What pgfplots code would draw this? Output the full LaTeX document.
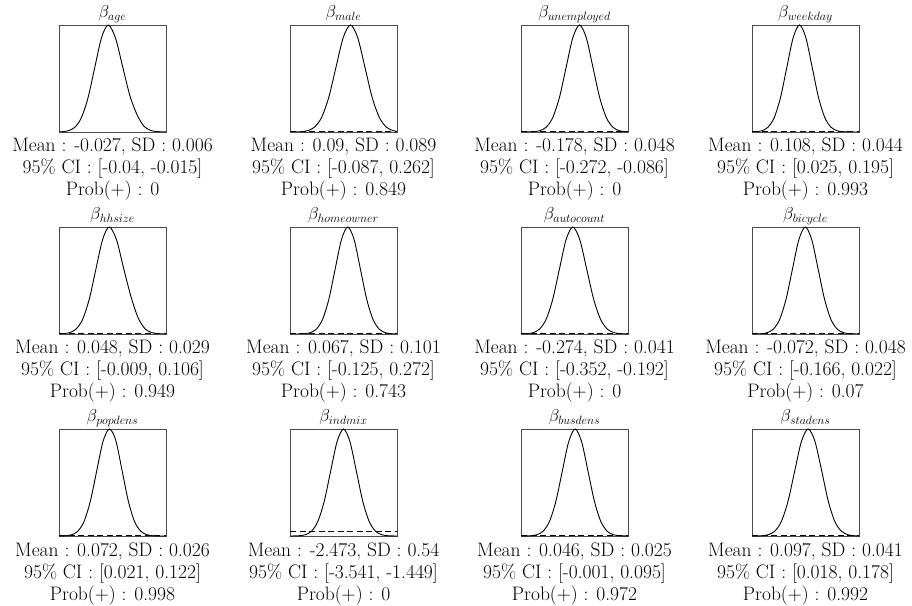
\documentclass[border=0pt]{standalone}
\usepackage{pgfplots}
\pgfplotsset{compat=1.18}
\pgfplotsset{dens/.style={width=107pt,height=107pt,scale only axis,
  xmin=0,xmax=1,ymin=0,ymax=1,ticks=none,
  axis line style={black!70,line width=0.8pt},anchor=north west}}
\tikzset{txt/.style={anchor=base,inner sep=0pt,font=\fontsize{19.5}{22}\selectfont},
  ttl/.style={anchor=base,inner sep=0pt,font=\fontsize{17.5}{20}\selectfont}}
\newcommand\curve{\addplot[black,line width=0.9pt,smooth,no markers]}
\newcommand\prior[1]{\addplot[black,line width=0.8pt,dash pattern=on 6pt off 3.5pt,no markers] coordinates {(0,#1) (1,#1)};}
\newcommand\stats[5]{%
  \node[ttl] at ([yshift=7.5pt]#1.north) {$\beta_{#2}$};
  \node[txt] at ([yshift=-20pt]#1.south) {#3};
  \node[txt] at ([yshift=-42pt]#1.south) {#4};
  \node[txt] at ([yshift=-64pt]#1.south) {#5};}
\begin{document}
\begin{tikzpicture}
\useasboundingbox (0pt,0pt) rectangle (912pt,605pt);
% Row 1
\begin{axis}[dens,at={(59pt,580pt)},name=a1]
\curve coordinates {(-0.04,0.0003) (0.0225,0.0022) (0.085,0.0111) (0.1475,0.0439) (0.21,0.1353) (0.2725,0.3247) (0.335,0.6065) (0.3975,0.8825) (0.46,1) (0.5275,0.88) (0.595,0.61) (0.6625,0.34) (0.73,0.16) (0.7975,0.05) (0.865,0.012) (0.9325,0.003) (1.0,0.0005)};
\prior{0.0005}
\end{axis}
\stats{a1}{age}{Mean : -0.027, SD : 0.006}{95\% CI : [-0.04, -0.015]}{Prob(+) : 0}
\begin{axis}[dens,at={(290pt,580pt)},name=a2]
\curve coordinates {(0,0.0001) (0.025,0.0003) (0.0925,0.0022) (0.16,0.0111) (0.2275,0.0439) (0.295,0.1353) (0.3625,0.3247) (0.43,0.6065) (0.4975,0.8825) (0.565,1) (0.6325,0.8825) (0.70,0.6065) (0.7675,0.3247) (0.835,0.1353) (0.9025,0.0439) (0.97,0.0111) (1.0375,0.0022)};
\prior{0.0077}
\end{axis}
\stats{a2}{male}{Mean : 0.09, SD : 0.089}{95\% CI : [-0.087, 0.262]}{Prob(+) : 0.849}
\begin{axis}[dens,at={(521pt,580pt)},name=a3]
\curve coordinates {(0,0.0002) (0.047,0.0003) (0.1095,0.0022) (0.172,0.0111) (0.2345,0.0439) (0.297,0.1353) (0.3595,0.3247) (0.422,0.6065) (0.4845,0.8825) (0.547,1) (0.6095,0.8825) (0.672,0.6065) (0.7345,0.3247) (0.797,0.1353) (0.8595,0.0439) (0.922,0.0111) (0.9845,0.0022) (1.047,0.0003)};
\prior{0.0042}
\end{axis}
\stats{a3}{unemployed}{Mean : -0.178, SD : 0.048}{95\% CI : [-0.272, -0.086]}{Prob(+) : 0}
\begin{axis}[dens,at={(752pt,580pt)},name=a4]
\curve coordinates {(-0.028,0.0003) (0.031,0.0022) (0.09,0.0111) (0.149,0.0439) (0.208,0.1353) (0.267,0.3247) (0.326,0.6065) (0.385,0.8825) (0.444,1) (0.503,0.8825) (0.562,0.6065) (0.621,0.3247) (0.680,0.1353) (0.739,0.0439) (0.798,0.0111) (0.857,0.0022) (0.916,0.0003) (1.0,0.0001)};
\prior{0.0038}
\end{axis}
\stats{a4}{weekday}{Mean : 0.108, SD : 0.044}{95\% CI : [0.025, 0.195]}{Prob(+) : 0.993}
% Row 2
\begin{axis}[dens,at={(59pt,378pt)},name=b1]
\curve coordinates {(-0.03,0.0003) (0.0325,0.0022) (0.095,0.0111) (0.1575,0.0439) (0.22,0.1353) (0.2825,0.3247) (0.345,0.6065) (0.4075,0.8825) (0.47,1) (0.5375,0.88) (0.605,0.61) (0.6725,0.35) (0.74,0.15) (0.8075,0.045) (0.875,0.011) (0.9425,0.002) (1.01,0.0003)};
\prior{0.0025}
\end{axis}
\stats{b1}{hhsize}{Mean : 0.048, SD : 0.029}{95\% CI : [-0.009, 0.106]}{Prob(+) : 0.949}
\begin{axis}[dens,at={(290pt,378pt)},name=b2]
\curve coordinates {(0,0.0001) (0.068,0.0003) (0.127,0.0022) (0.186,0.0111) (0.245,0.0439) (0.304,0.1353) (0.363,0.3247) (0.422,0.6065) (0.481,0.8825) (0.54,1) (0.599,0.8825) (0.658,0.6065) (0.717,0.3247) (0.776,0.1353) (0.835,0.0439) (0.894,0.0111) (0.953,0.0022) (1.012,0.0003)};
\prior{0.0088}
\end{axis}
\stats{b2}{homeowner}{Mean : 0.067, SD : 0.101}{95\% CI : [-0.125, 0.272]}{Prob(+) : 0.743}
\begin{axis}[dens,at={(521pt,378pt)},name=b3]
\curve coordinates {(-0.016,0.0003) (0.0465,0.0022) (0.109,0.0111) (0.1715,0.0439) (0.234,0.1353) (0.2965,0.3247) (0.359,0.6065) (0.4215,0.8825) (0.484,1) (0.549,0.8825) (0.614,0.6065) (0.679,0.3247) (0.744,0.1353) (0.809,0.0439) (0.874,0.0111) (0.939,0.0022) (1.004,0.0003)};
\prior{0.0036}
\end{axis}
\stats{b3}{autocount}{Mean : -0.274, SD : 0.041}{95\% CI : [-0.352, -0.192]}{Prob(+) : 0}
\begin{axis}[dens,at={(752pt,378pt)},name=b4]
\curve coordinates {(0,0.0001) (0.018,0.0003) (0.078,0.0022) (0.138,0.0111) (0.198,0.0439) (0.258,0.1353) (0.318,0.3247) (0.378,0.6065) (0.438,0.8825) (0.498,1) (0.558,0.8825) (0.618,0.6065) (0.678,0.3247) (0.738,0.1353) (0.798,0.0439) (0.858,0.0111) (0.918,0.0022) (0.978,0.0003) (1.0,0.0001)};
\prior{0.0042}
\end{axis}
\stats{b4}{bicycle}{Mean : -0.072, SD : 0.048}{95\% CI : [-0.166, 0.022]}{Prob(+) : 0.07}
% Row 3
\begin{axis}[dens,at={(59pt,176pt)},name=c1]
\curve coordinates {(-0.002,0.0003) (0.057,0.0022) (0.116,0.0111) (0.175,0.0439) (0.234,0.1353) (0.293,0.3247) (0.352,0.6065) (0.411,0.8825) (0.47,1) (0.529,0.9) (0.588,0.62) (0.647,0.33) (0.706,0.1353) (0.765,0.0439) (0.824,0.0111) (0.883,0.0022) (0.942,0.0003) (1.0,0.0001)};
\prior{0.0023}
\end{axis}
\stats{c1}{popdens}{Mean : 0.072, SD : 0.026}{95\% CI : [0.021, 0.122]}{Prob(+) : 0.998}
\begin{axis}[dens,at={(290pt,176pt)},name=c2]
\curve coordinates {(0,0.0001) (0.02,0.0003) (0.08,0.0022) (0.14,0.0111) (0.2,0.0439) (0.26,0.1353) (0.32,0.3247) (0.38,0.6065) (0.44,0.8825) (0.5,1) (0.56,0.8825) (0.62,0.6065) (0.68,0.3247) (0.74,0.1353) (0.80,0.0439) (0.86,0.0111) (0.92,0.0022) (0.98,0.0003) (1.0,0.0001)};
\prior{0.047}
\end{axis}
\stats{c2}{indmix}{Mean : -2.473, SD : 0.54}{95\% CI : [-3.541, -1.449]}{Prob(+) : 0}
\begin{axis}[dens,at={(521pt,176pt)},name=c3]
\curve coordinates {(0,0.0001) (0.026,0.0003) (0.086,0.0022) (0.146,0.0111) (0.206,0.0439) (0.266,0.1353) (0.326,0.3247) (0.386,0.6065) (0.446,0.8825) (0.506,1) (0.566,0.8825) (0.626,0.6065) (0.686,0.3247) (0.746,0.1353) (0.806,0.0439) (0.866,0.0111) (0.926,0.0022) (0.986,0.0003) (1.0,0.0001)};
\prior{0.0022}
\end{axis}
\stats{c3}{busdens}{Mean : 0.046, SD : 0.025}{95\% CI : [-0.001, 0.095]}{Prob(+) : 0.972}
\begin{axis}[dens,at={(752pt,176pt)},name=c4]
\curve coordinates {(0,0.0001) (0.024,0.0003) (0.0865,0.0022) (0.149,0.0111) (0.2115,0.0439) (0.274,0.1353) (0.3365,0.3247) (0.399,0.6065) (0.4615,0.8825) (0.524,1) (0.5865,0.89) (0.649,0.62) (0.7115,0.33) (0.774,0.1353) (0.8365,0.0439) (0.899,0.0111) (0.9615,0.0022) (1.024,0.0003)};
\prior{0.0036}
\end{axis}
\stats{c4}{stadens}{Mean : 0.097, SD : 0.041}{95\% CI : [0.018, 0.178]}{Prob(+) : 0.992}
\end{tikzpicture}
\end{document}
